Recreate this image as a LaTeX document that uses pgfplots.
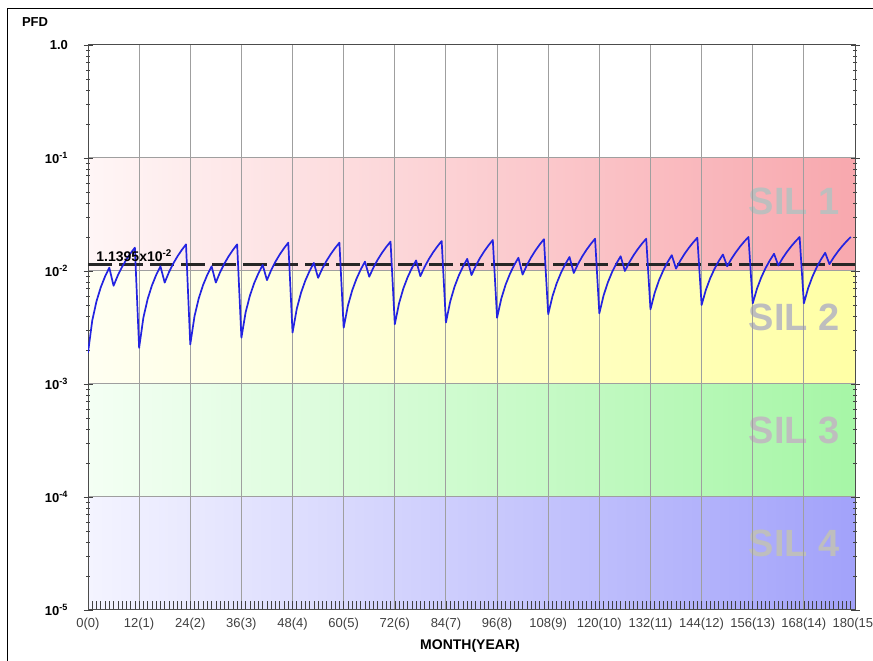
\documentclass[border=0pt]{standalone}
\usepackage{fontspec}
\setmainfont{Liberation Sans}
\usepackage{pgfplots}
\pgfplotsset{compat=1.18}
\definecolor{curve}{RGB}{35,35,225}
\definecolor{redR}{RGB}{248,168,174}
\definecolor{redL}{RGB}{255,246,246}
\definecolor{yelR}{RGB}{255,255,165}
\definecolor{yelL}{RGB}{255,255,242}
\definecolor{grnR}{RGB}{166,246,166}
\definecolor{grnL}{RGB}{244,255,244}
\definecolor{bluR}{RGB}{162,162,250}
\definecolor{bluL}{RGB}{244,244,255}
\definecolor{silgray}{RGB}{190,190,190}
\begin{document}
\begin{tikzpicture}
\draw[black, line width=1pt] (7.5pt,0pt) -- (7.5pt,652pt) -- (873pt,652pt);
\begin{axis}[
  at={(88pt,51pt)}, anchor=south west,
  scale only axis, width=767pt, height=565pt,
  set layers,
  ymode=log, ymin=1e-5, ymax=1,
  xmin=0, xmax=180,
  xtick={0,12,...,180},
  xticklabels={0(0),12(1),24(2),36(3),48(4),60(5),72(6),84(7),96(8),108(9),120(10),132(11),144(12),156(13),168(14),180(15)},
  minor x tick num=11,
  xtick pos=left,
  xtick align=inside,
  ytick={1e-5,1e-4,1e-3,1e-2,1e-1,1},
  yticklabels={10\textsuperscript{-5},10\textsuperscript{-4},10\textsuperscript{-3},10\textsuperscript{-2},10\textsuperscript{-1},1.0},
  ytick align=center,
  grid=major,
  major grid style={draw=gray!75, line width=1pt},
  axis line style={draw=gray!60!black, line width=1pt},
  tick style={draw=gray!50!black, line width=0.6pt},
  major tick length=9pt,
  minor tick length=4pt,
  minor x tick style={/pgfplots/minor tick length=9pt},
  xticklabel style={font=\fontsize{13}{13}\selectfont, text=black!75, yshift=-5pt},
  yticklabel style={font=\bfseries\fontsize{13}{13}\selectfont, xshift=-12pt},
]
\begin{pgfonlayer}{axis background}
\fill[left color=redL, right color=redR] (axis cs:0,1e-2) rectangle (axis cs:180,1e-1);
\fill[left color=yelL, right color=yelR] (axis cs:0,1e-3) rectangle (axis cs:180,1e-2);
\fill[left color=grnL, right color=grnR] (axis cs:0,1e-4) rectangle (axis cs:180,1e-3);
\fill[left color=bluL, right color=bluR] (axis cs:0,1e-5) rectangle (axis cs:180,1e-4);
\node[text=silgray, font=\bfseries\fontsize{38}{38}\selectfont] at (axis cs:165.7,0.041) {SIL 1};
\node[text=silgray, font=\bfseries\fontsize{38}{38}\selectfont] at (axis cs:165.7,0.00392) {SIL 2};
\node[text=silgray, font=\bfseries\fontsize{38}{38}\selectfont] at (axis cs:165.7,0.000392) {SIL 3};
\node[text=silgray, font=\bfseries\fontsize{38}{38}\selectfont] at (axis cs:165.7,0.0000392) {SIL 4};
\end{pgfonlayer}
\addplot[black!85, line width=2.2pt, dash pattern=on 24pt off 7pt] coordinates {(0,0.011395) (180,0.011395)};
\addplot[curve, line width=1.7pt, line join=round] coordinates {
(0,1.89e-3) (1,3.65e-3) (2,5.41e-3) (3,7.18e-3) (4,8.94e-3) (5,10.7e-3) (6,7.4e-3) (7,9.14e-3) (8,10.88e-3) (9,12.62e-3) (10,14.36e-3) (11,16.1e-3)
(12,2.09e-3) (13,3.87e-3) (14,5.65e-3) (15,7.44e-3) (16,9.22e-3) (17,11.0e-3) (18,7.9e-3) (19,9.76e-3) (20,11.62e-3) (21,13.48e-3) (22,15.34e-3) (23,17.2e-3)
(24,2.24e-3) (25,3.99e-3) (26,5.74e-3) (27,7.50e-3) (28,9.25e-3) (29,11.0e-3) (30,7.9e-3) (31,9.76e-3) (32,11.62e-3) (33,13.48e-3) (34,15.34e-3) (35,17.2e-3)
(36,2.57e-3) (37,4.32e-3) (38,6.06e-3) (39,7.81e-3) (40,9.55e-3) (41,11.3e-3) (42,8.3e-3) (43,10.2e-3) (44,12.1e-3) (45,14.0e-3) (46,15.9e-3) (47,17.8e-3)
(48,2.85e-3) (49,4.64e-3) (50,6.43e-3) (51,8.22e-3) (52,10.01e-3) (53,11.8e-3) (54,8.7e-3) (55,10.52e-3) (56,12.34e-3) (57,14.16e-3) (58,15.98e-3) (59,17.8e-3)
(60,3.15e-3) (61,4.94e-3) (62,6.73e-3) (63,8.52e-3) (64,10.31e-3) (65,12.1e-3) (66,8.9e-3) (67,10.76e-3) (68,12.62e-3) (69,14.48e-3) (70,16.34e-3) (71,18.2e-3)
(72,3.38e-3) (73,5.18e-3) (74,6.99e-3) (75,8.79e-3) (76,10.60e-3) (77,12.4e-3) (78,9.0e-3) (79,10.88e-3) (80,12.76e-3) (81,14.64e-3) (82,16.52e-3) (83,18.4e-3)
(84,3.50e-3) (85,5.36e-3) (86,7.22e-3) (87,9.08e-3) (88,10.94e-3) (89,12.8e-3) (90,9.2e-3) (91,11.12e-3) (92,13.04e-3) (93,14.96e-3) (94,16.88e-3) (95,18.8e-3)
(96,3.86e-3) (97,5.71e-3) (98,7.56e-3) (99,9.40e-3) (100,11.25e-3) (101,13.1e-3) (102,9.3e-3) (103,11.26e-3) (104,13.22e-3) (105,15.18e-3) (106,17.14e-3) (107,19.1e-3)
(108,4.14e-3) (109,5.97e-3) (110,7.80e-3) (111,9.64e-3) (112,11.47e-3) (113,13.3e-3) (114,9.6e-3) (115,11.54e-3) (116,13.48e-3) (117,15.42e-3) (118,17.36e-3) (119,19.3e-3)
(120,4.22e-3) (121,6.08e-3) (122,7.93e-3) (123,9.79e-3) (124,11.64e-3) (125,13.5e-3) (126,10.0e-3) (127,11.86e-3) (128,13.72e-3) (129,15.58e-3) (130,17.44e-3) (131,19.3e-3)
(132,4.58e-3) (133,6.42e-3) (134,8.27e-3) (135,10.11e-3) (136,11.96e-3) (137,13.8e-3) (138,10.5e-3) (139,12.34e-3) (140,14.18e-3) (141,16.02e-3) (142,17.86e-3) (143,19.7e-3)
(144,5.00e-3) (145,6.80e-3) (146,8.60e-3) (147,10.4e-3) (148,12.2e-3) (149,14.0e-3) (150,11.0e-3) (151,12.8e-3) (152,14.6e-3) (153,16.4e-3) (154,18.2e-3) (155,20.0e-3)
(156,5.17e-3) (157,6.98e-3) (158,8.78e-3) (159,10.59e-3) (160,12.39e-3) (161,14.2e-3) (162,11.2e-3) (163,12.96e-3) (164,14.72e-3) (165,16.48e-3) (166,18.24e-3) (167,20.0e-3)
(168,5.17e-3) (169,7.04e-3) (170,8.90e-3) (171,10.77e-3) (172,12.63e-3) (173,14.5e-3) (174,11.5e-3) (175,13.2e-3) (176,14.9e-3) (177,16.6e-3) (178,18.3e-3) (179,20.0e-3)
};
\node[anchor=south west, inner sep=1pt, font=\bfseries\fontsize{14}{14}\selectfont] at (axis cs:1.7,0.01175) {1.1395x10\textsuperscript{-2}};
\end{axis}
\node[font=\bfseries\fontsize{13}{13}\selectfont] at (35pt,639pt) {PFD};
\node[font=\bfseries\fontsize{14}{14}\selectfont] at (470pt,15pt) {MONTH(YEAR)};
\pgfresetboundingbox
\path (0pt,0pt) rectangle (873pt,661pt);
\end{tikzpicture}
\end{document}
